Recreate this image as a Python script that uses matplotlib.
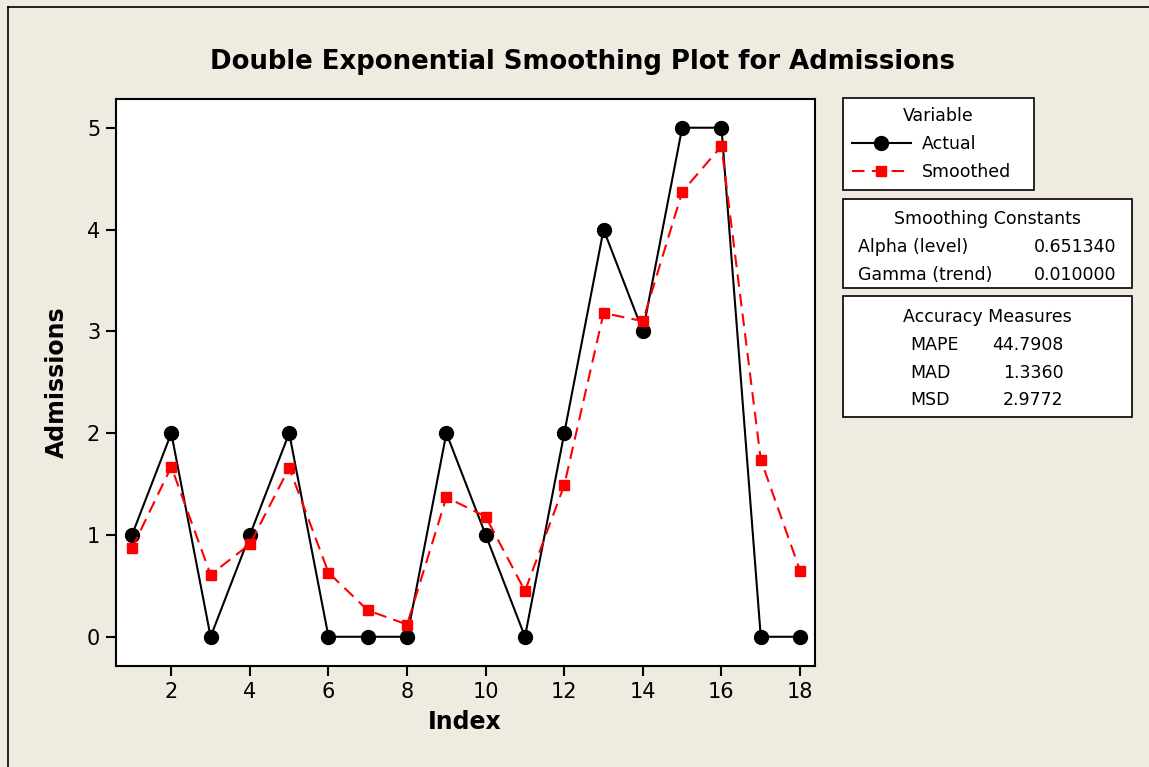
import matplotlib.pyplot as plt
from matplotlib.lines import Line2D
from matplotlib.patches import Rectangle

index = list(range(1, 19))
actual = [1, 2, 0, 1, 2, 0, 0, 0, 2, 1, 0, 2, 4, 3, 5, 5, 0, 0]
smoothed = [0.87, 1.67, 0.61, 0.91, 1.66, 0.63, 0.26, 0.12, 1.37,
            1.18, 0.45, 1.49, 3.18, 3.10, 4.37, 4.82, 1.74, 0.65]

const_names = ["Alpha (level)", "Gamma (trend)"]
const_values = ["0.651340", "0.010000"]
measure_names = ["MAPE", "MAD", "MSD"]
measure_values = ["44.7908", "1.3360", "2.9772"]

W, H = 1149, 767
bg = '#EFEBE1'

plt.rcParams['font.family'] = 'DejaVu Sans'

fig = plt.figure(figsize=(W / 100, H / 100), dpi=100, facecolor=bg)


def fx(px):
    return px / W


def fy(py):
    return 1 - py / H


# outer frame (only top and left edges visible in the crop)
fig.add_artist(Line2D([fx(7.7), fx(7.7)], [fy(6.5), 0], color='black', lw=1.2))
fig.add_artist(Line2D([fx(7.7), 1], [fy(6.5), fy(6.5)], color='black', lw=1.2))

ax = fig.add_axes([fx(115.5), fy(666.3), fx(815) - fx(115.5), fy(98.7) - fy(666.3)])
ax.set_facecolor('white')

ax.plot(index, actual, color='black', lw=1.5, marker='o', markersize=10,
        label='Actual', zorder=3)
ax.plot(index, smoothed, color='red', lw=1.5, linestyle=(0, (6, 3.5)),
        marker='s', markersize=7, label='Smoothed', zorder=4)

ax.set_xlim(0.58, 18.38)
ax.set_ylim(-0.29, 5.285)
ax.set_xticks(range(2, 19, 2))
ax.set_yticks(range(0, 6))
ax.tick_params(length=7, width=1.5, labelsize=15, pad=4)
for s in ax.spines.values():
    s.set_linewidth(1.5)

ax.set_xlabel('Index', fontsize=17, fontweight='bold', labelpad=6)
ax.set_ylabel('Admissions', fontsize=17, fontweight='bold', labelpad=13)

fig.text(fx(582), fy(62), 'Double Exponential Smoothing Plot for Admissions',
         fontsize=18.7, fontweight='bold', ha='center', va='center')

# legend box
handles, labels = ax.get_legend_handles_labels()
leg = fig.legend(handles, labels, title='Variable', loc='upper left',
                 bbox_to_anchor=(fx(843.3), fy(98.3), fx(1034) - fx(843.3), 0),
                 mode='expand', borderaxespad=0, fancybox=False, fontsize=12.5,
                 title_fontsize=12.5, handlelength=3.4, handletextpad=0.6,
                 labelspacing=0.58, borderpad=0.5, framealpha=1, edgecolor='black')
leg.get_frame().set_linewidth(1.2)

# smoothing constants box
fig.add_artist(Rectangle((fx(843.3), fy(288.3)), fx(1132) - fx(843.3),
                         fy(198.7) - fy(288.3), transform=fig.transFigure,
                         facecolor='white', edgecolor='black', lw=1.2))
fig.text(fx(987.5), fy(219), 'Smoothing Constants', fontsize=12.5,
         ha='center', va='center')
for i, (n, v) in enumerate(zip(const_names, const_values)):
    y = 247.3 + i * 27.7
    fig.text(fx(858.3), fy(y), n, fontsize=12.5, ha='left', va='center')
    fig.text(fx(1116), fy(y), v, fontsize=12.5, ha='right', va='center')

# accuracy measures box
fig.add_artist(Rectangle((fx(843.3), fy(417.3)), fx(1132) - fx(843.3),
                         fy(296) - fy(417.3), transform=fig.transFigure,
                         facecolor='white', edgecolor='black', lw=1.2))
fig.text(fx(987.5), fy(316.7), 'Accuracy Measures', fontsize=12.5,
         ha='center', va='center')
for i, (n, v) in enumerate(zip(measure_names, measure_values)):
    y = 345 + i * 27.5
    fig.text(fx(910), fy(y), n, fontsize=12.5, ha='left', va='center')
    fig.text(fx(1063.3), fy(y), v, fontsize=12.5, ha='right', va='center')

fig.savefig('out.png', dpi=100, facecolor=bg)
